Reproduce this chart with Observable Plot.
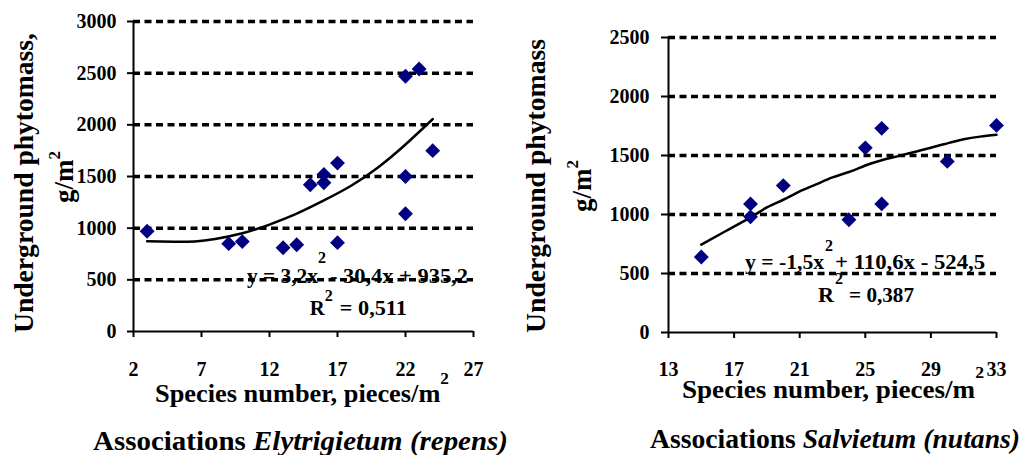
<!DOCTYPE html>
<html><head><meta charset="utf-8">
<script src="https://cdn.jsdelivr.net/npm/d3@7"></script>
<script src="https://cdn.jsdelivr.net/npm/@observablehq/plot@0.6"></script>
<style>
body{margin:0;background:#fff;}
#wrap{position:relative;width:1024px;height:455px;overflow:hidden;background:#fff;}
#left,#right{position:absolute;top:0;}
#left{left:0;} #right{left:512px;}
</style></head><body>
<div id="wrap"><div id="left"></div><div id="right"></div></div>
<script>
const FONT = '"Liberation Serif", "Times New Roman", Times, serif';

// ---- Left chart: Elytrigietum (repens) ----
const leftSpecies = [3, 9, 10, 13, 14, 15, 16, 16, 17, 17, 22, 22, 22, 23, 24];
const leftMass    = [970, 850, 870, 810, 840, 1420, 1520, 1440, 1630, 860, 2470, 1500, 1140, 2540, 1750];
const leftTrendX  = [3, 5, 6.5, 8, 10, 12, 14, 16, 18, 20, 22, 24];
const leftTrendY  = [873, 868, 872, 895, 950, 1035, 1140, 1268, 1410, 1590, 1810, 2055];
const leftXTicks  = [2, 7, 12, 17, 22, 27];
const leftYTicks  = [0, 500, 1000, 1500, 2000, 2500, 3000];
const leftEq      = ["y = 3,2x", "2", "- 30,4x + 935,2"];
const leftR2      = ["R", "2", "= 0,511"];
const leftEqPos   = [10.38, 465];   // data-space anchor (species, mass)
const leftR2Pos   = [15.0, 155];
const leftTitle   = ["Associations ", "Elytrigietum (repens)"];

// ---- Right chart: Salvietum (nutans) ----
const rightSpecies = [15, 18, 18, 20, 24, 25, 26, 26, 30, 33];
const rightMass    = [640, 1090, 980, 1245, 955, 1565, 1730, 1090, 1450, 1755];
const rightTrendX  = [15, 16.5, 18, 19, 20, 21, 22, 23, 24, 25, 26, 27, 28, 29, 30, 31, 32, 33];
const rightTrendY  = [745, 860, 975, 1060, 1125, 1195, 1255, 1314, 1360, 1415, 1460, 1495, 1530, 1565, 1603, 1638, 1660, 1675];
const rightXTicks  = [13, 17, 21, 25, 29, 33];
const rightYTicks  = [0, 500, 1000, 1500, 2000, 2500];
const rightEq      = ["y = -1,5x", "2", "+ 110,6x - 524,5"];
const rightR2      = ["R", "2", "= 0,387"];
const rightEqPos   = [17.7, 531];
const rightR2Pos   = [22.15, 252];
const rightTitle   = ["Associations ", "Salvietum (nutans)"];

const yTitle1L = "Underground phytomass,";
const yTitle1R = "Underground phytomass";
const yTitle2  = ["g/m", "2"];
const xTitle   = ["Species number, pieces/m", "2"];

function makeChart(c) {
  const pts = c.xs.map((x, i) => ({x, y: c.ys[i]}));
  const trend = c.tx.map((x, i) => ({x, y: c.ty[i]}));
  const grid = c.yTicks.filter(v => v > 0);
  const plot = Plot.plot({
    width: 512, height: 455,
    marginLeft: c.ml, marginRight: c.mr, marginTop: c.mt, marginBottom: c.mb,
    x: {domain: c.xDomain},
    y: {domain: c.yDomain},
    style: {fontFamily: FONT, fontSize: "20px", fontWeight: "bold", color: "#000", background: "#fff", overflow: "visible"},
    marks: [
      Plot.ruleY(grid, {stroke: "#000", strokeWidth: 3.5, strokeDasharray: "7,4.5"}),
      Plot.ruleX([c.xDomain[0]], {stroke: "#000", strokeWidth: 2}),
      Plot.ruleY([c.yDomain[0]], {stroke: "#000", strokeWidth: 2}),
      Plot.axisY({ticks: c.yTicks, tickSize: c.yTickSize, tickPadding: c.yTickPad, tickFormat: d => String(d),
                  stroke: "#000", strokeWidth: 2, fontSize: 20, fontWeight: "bold", label: null}),
      Plot.axisX({ticks: c.xTicks, tickSize: 6, tickPadding: c.xTickPad, tickFormat: d => String(d),
                  stroke: "#000", strokeWidth: 2, fontSize: 20, fontWeight: "bold", label: null}),
      Plot.line(trend, {x: "x", y: "y", curve: "natural", stroke: "#000", strokeWidth: 2.5}),
      Plot.dot(pts, {x: "x", y: "y", symbol: "diamond2", r: 6.7, fill: "#000080", stroke: "none"})
    ]
  });
  const sx = plot.scale("x"), sy = plot.scale("y");
  const svg = d3.select(plot);
  const txt = (x, y) => svg.append("text").attr("x", x).attr("y", y).attr("text-anchor", "start")
      .attr("font-family", FONT).attr("font-weight", "bold").attr("fill", "#000");

  // regression equation and R²: main part, superscript, rest (offsets in px from the data anchor)
  function supText(parts, pos, L) {
    const x0 = sx.apply(pos[0]), y0 = sy.apply(pos[1]);
    txt(x0, y0).attr("font-size", 21).attr("textLength", L[0]).attr("lengthAdjust", "spacingAndGlyphs").text(parts[0]);
    txt(x0 + L[1], y0 - L[2]).attr("font-size", 16).text(parts[1]);
    txt(x0 + L[3], y0).attr("font-size", 21).attr("textLength", L[4]).attr("lengthAdjust", "spacingAndGlyphs").text(parts[2]);
  }
  supText(c.eq, c.eqPos, c.eqL);
  supText(c.r2, c.r2Pos, c.r2L);

  // y-axis title, two lines rotated
  svg.append("text").attr("transform", `translate(${c.yt1[0]},${c.yt1[1]}) rotate(-90)`)
    .attr("text-anchor", "middle").attr("font-family", FONT).attr("font-weight", "bold")
    .attr("font-size", 27).attr("textLength", c.yt1[2]).attr("lengthAdjust", "spacingAndGlyphs")
    .text(c.yTitle1);
  const y2 = svg.append("text").attr("transform", `translate(${c.yt2[0]},${c.yt2[1]}) rotate(-90)`)
    .attr("text-anchor", "middle").attr("font-family", FONT).attr("font-weight", "bold").attr("font-size", 27);
  y2.append("tspan").text(yTitle2[0]);
  y2.append("tspan").attr("dy", -13).attr("font-size", 17).text(yTitle2[1]);

  // x-axis title
  const xt = txt(c.xt[0], c.xt[1]).attr("font-size", 26)
    .attr("textLength", c.xt[3]).attr("lengthAdjust", "spacingAndGlyphs");
  xt.append("tspan").text(xTitle[0]);
  xt.append("tspan").attr("dy", -c.xt[2]).attr("font-size", 17).text(xTitle[1]);

  // chart title
  const tt = txt(c.tt[0], c.tt[1]).attr("font-size", 27)
    .attr("textLength", c.tt[2]).attr("lengthAdjust", "spacingAndGlyphs");
  tt.append("tspan").text(c.title[0]);
  tt.append("tspan").attr("font-style", "italic").text(c.title[1]);
  return plot;
}

document.getElementById("left").appendChild(makeChart({
  xs: leftSpecies, ys: leftMass, tx: leftTrendX, ty: leftTrendY,
  xTicks: leftXTicks, yTicks: leftYTicks, xDomain: [2, 27], yDomain: [0, 3000],
  ml: 133, mr: 39, mt: 21, mb: 124, yTickSize: 6, yTickPad: 11, xTickPad: 24,
  eq: leftEq, r2: leftR2, eqPos: leftEqPos, r2Pos: leftR2Pos,
  eqL: [71, 71, 20, 83, 138], r2L: [15, 15, 14, 30, 67],
  yTitle1: yTitle1L, yt1: [33, 183, 300], yt2: [73, 177],
  xt: [155, 402, 18, 294], tt: [93, 450, 415], title: leftTitle
}));
document.getElementById("right").appendChild(makeChart({
  xs: rightSpecies, ys: rightMass, tx: rightTrendX, ty: rightTrendY,
  xTicks: rightXTicks, yTicks: rightYTicks, xDomain: [13, 33], yDomain: [0, 2500],
  ml: 156, mr: 28, mt: 37, mb: 123, yTickSize: 7, yTickPad: 12, xTickPad: 23,
  eq: rightEq, r2: rightR2, eqPos: rightEqPos, r2Pos: rightR2Pos,
  eqL: [79, 80, 18, 90, 150], r2L: [16, 17, 18, 31, 65],
  yTitle1: yTitle1R, yt1: [33, 186, 294], yt2: [79, 186],
  xt: [170, 398, 20, 302], tt: [138, 448, 370], title: rightTitle
}));
</script>
</body></html>
